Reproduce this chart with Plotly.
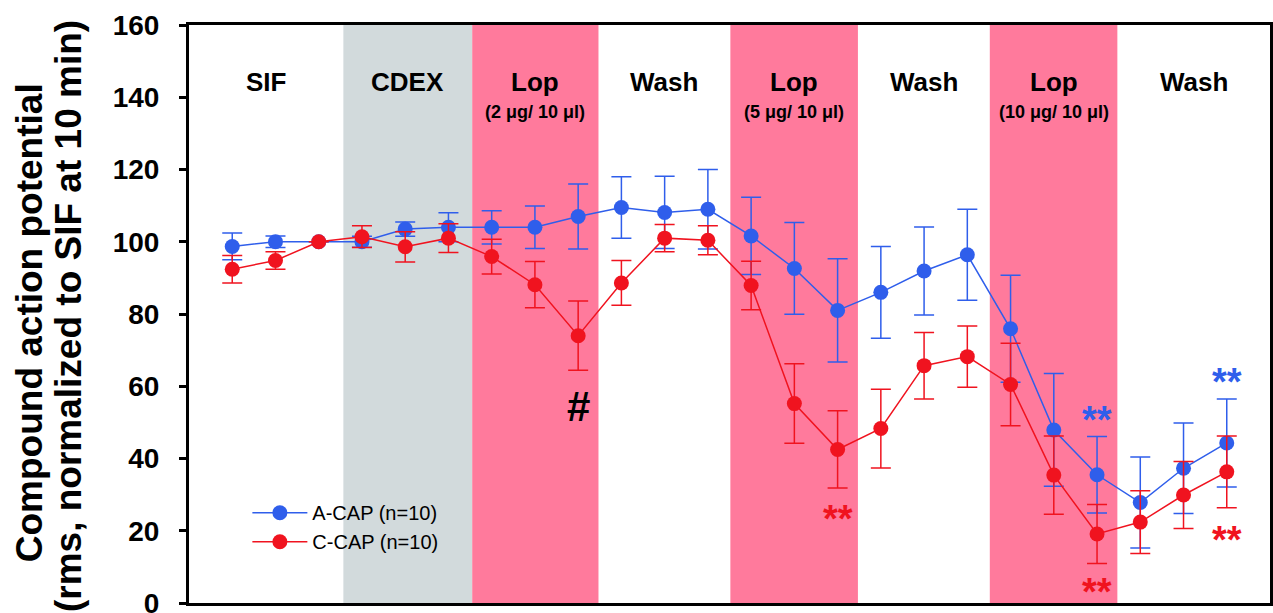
import plotly.graph_objects as go

# ---- data ----
x_idx = list(range(1, 25))
a_cap = [98.7, 100.0, 100.0, 100.0, 103.5, 104.0, 104.0, 104.0, 107.0, 109.5, 108.1, 109.0,
         101.6, 92.6, 81.0, 86.0, 91.9, 96.4, 75.9, 47.9, 35.5, 27.8, 37.3, 44.3]
a_err = [3.7, 1.6, 0.0, 1.5, 2.0, 4.0, 4.6, 5.9, 9.0, 8.5, 10.0, 11.0,
         10.7, 12.7, 14.3, 12.7, 12.2, 12.6, 14.8, 15.6, 10.6, 12.6, 12.5, 12.2]
c_cap = [92.4, 94.8, 100.0, 101.4, 98.6, 101.0, 95.9, 88.1, 74.0, 88.6, 101.0, 100.4,
         87.9, 55.2, 42.5, 48.3, 65.7, 68.2, 60.5, 35.4, 19.1, 22.4, 29.9, 36.3]
c_err = [3.8, 2.4, 0.0, 3.0, 4.2, 4.0, 4.8, 6.4, 9.6, 6.2, 3.8, 4.0,
         6.7, 11.0, 10.7, 10.9, 9.2, 8.5, 11.4, 10.8, 8.2, 8.7, 9.3, 9.9]

# treatment phases (start, end in x units), label, sub-label, kind
phase_edges = [0.0, 3.57, 6.55, 9.47, 12.52, 15.47, 18.52, 21.47, 25.0]
phase_names = ["SIF", "CDEX", "Lop", "Wash", "Lop", "Wash", "Lop", "Wash"]
phase_sub = ["", "", "(2 μg/ 10 μl)", "", "(5 μg/ 10 μl)", "", "(10 μg/ 10 μl)", ""]
phase_kind = ["none", "cdex", "lop", "none", "lop", "none", "lop", "none"]

# significance markers: (x, y, text, color)
sig_marks = [
    (9, 54.3, "#", "black"),
    (15, 23.3, "**", "red"),
    (21, 50.7, "**", "blue"),
    (21, 3.0, "**", "red"),
    (24, 61.2, "**", "blue"),
    (24, 17.5, "**", "red"),
]

y_ticks = [0, 20, 40, 60, 80, 100, 120, 140, 160]
y_title_lines = ["Compound action potential", "(rms, normalized to SIF at 10 min)"]

BLUE = "#2F5EEB"
RED = "#F0131F"
PINK = "#FF7A9C"
GRAY = "#D2DADC"
FONT = "Liberation Sans, Arial, sans-serif"

L, R = 189, 3
W = 1273 - L - R

fig = go.Figure()

shapes = []
for i, kind in enumerate(phase_kind):
    if kind == "none":
        continue
    shapes.append(dict(type="rect", xref="x", yref="paper",
                       x0=phase_edges[i], x1=phase_edges[i + 1], y0=0, y1=1,
                       fillcolor=PINK if kind == "lop" else GRAY,
                       line=dict(width=0), layer="below"))

annotations = []
for i, name in enumerate(phase_names):
    xc = (phase_edges[i] + phase_edges[i + 1]) / 2
    annotations.append(dict(x=xc, y=144.3, xref="x", yref="y", text="<b>%s</b>" % name,
                            showarrow=False, font=dict(size=26, color="black", family=FONT)))
    if phase_sub[i]:
        annotations.append(dict(x=xc, y=136.0, xref="x", yref="y", text="<b>%s</b>" % phase_sub[i],
                                showarrow=False, font=dict(size=18, color="black", family=FONT)))

for (sx, sy, st, sc) in sig_marks:
    col = {"black": "black", "red": RED, "blue": BLUE}[sc]
    size = 42 if st == "#" else 38
    annotations.append(dict(x=sx, y=sy, xref="x", yref="y", text="<b>%s</b>" % st,
                            showarrow=False, font=dict(size=size, color=col, family=FONT)))

# y-axis title, two rotated lines (positions in pixels -> paper)
for txt, px, py in [(y_title_lines[0], 29, 0.484), (y_title_lines[1], 68, 0.4965)]:
    annotations.append(dict(x=(px - L) / W, y=py, xref="paper", yref="paper", text="<b>%s</b>" % txt,
                            showarrow=False, textangle=-90, xanchor="center", yanchor="middle",
                            font=dict(size=37, color="black", family=FONT)))

fig.add_trace(go.Scatter(
    x=x_idx, y=a_cap, mode="lines+markers", name="A-CAP (n=10)",
    line=dict(color=BLUE, width=1.5),
    marker=dict(color=BLUE, size=15),
    error_y=dict(type="data", array=a_err, visible=True, color=BLUE, thickness=1.5, width=10),
))
fig.add_trace(go.Scatter(
    x=x_idx, y=c_cap, mode="lines+markers", name="C-CAP (n=10)",
    line=dict(color=RED, width=1.5),
    marker=dict(color=RED, size=15),
    error_y=dict(type="data", array=c_err, visible=True, color=RED, thickness=1.5, width=10),
))

fig.update_layout(
    width=1273, height=613,
    margin=dict(l=L, r=R, t=25, b=10, autoexpand=False),
    paper_bgcolor="white", plot_bgcolor="white",
    shapes=shapes, annotations=annotations,
    font=dict(family=FONT, color="black"),
    showlegend=True,
    legend=dict(x=0.054, y=0.19, xanchor="left", yanchor="top",
                bgcolor="rgba(0,0,0,0)", font=dict(size=20, family=FONT),
                tracegroupgap=0, itemwidth=55),
    xaxis=dict(range=[0, 25], showticklabels=False, ticks="", showgrid=False, zeroline=False,
               showline=True, linecolor="black", linewidth=3, mirror=True, automargin=False),
    yaxis=dict(range=[0, 160], tickvals=y_ticks, ticktext=["<b>%d</b>" % v for v in y_ticks],
               ticks="outside", ticklen=7, tickwidth=2.5, tickcolor="black",
               tickfont=dict(size=28, family=FONT, color="black"),
               ticklabelstandoff=14, ticklabeloverflow="allow",
               showgrid=False, zeroline=False, showline=True, linecolor="black", linewidth=3,
               mirror="ticks", automargin=False),
)

fig.write_html("out.html")
